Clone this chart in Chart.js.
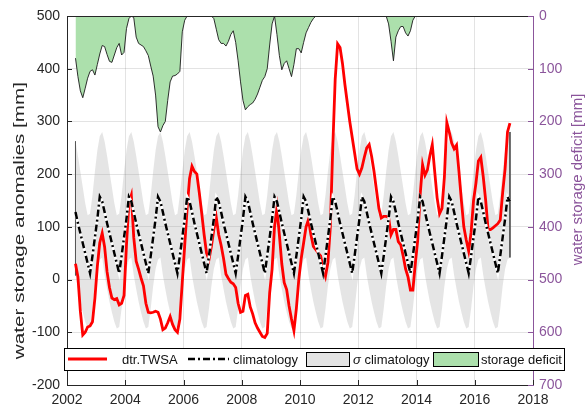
<!DOCTYPE html>
<html>
<head>
<meta charset="utf-8">
<script src="https://cdn.jsdelivr.net/npm/chart.js@4.4.1/dist/chart.umd.min.js"></script>
<style>
  html, body { margin: 0; padding: 0; background: #ffffff; }
  #wrap { width: 586px; height: 407px; }
</style>
</head>
<body>
<div id="wrap"><canvas id="c" width="586" height="407"></canvas></div>
<script>
// ---------------- DATA ----------------
// monthly series, April 2002 ... March 2017
const startYear = 2002;
const startMonth = 4;

// detrended TWSA anomalies [mm]
const twsa = [
  // 2002 Apr-Dec
  30, 5, -60, -105, -100, -90, -88, -80, -35,
  // 2003
  25, 70, 88, 62, 15, -15, -35, -38, -36, -48, -45, -30,
  // 2004
  65, 145, 160, 80, 35, 20, 3, -12, -45, -62, -63, -62,
  // 2005
  -60, -62, -75, -95, -92, -82, -70, -85, -95, -100, -75, -5,
  // 2006
  65, 135, 192, 215, 205, 200, 165, 126, 85, 50, 38, 63,
  // 2007
  95, 118, 85, 65, 40, 10, 2, -5, -8, -15, -45, -62,
  // 2008
  -60, -30, -28, -52, -65, -82, -92, -100, -108, -110, -102, -25,
  // 2009
  20, 100, 135, 85, 30, -6, -19, -50, -75, -97, -55, 0,
  // 2010
  40, 70, 100, 114, 85, 63, 57, 50, 45, 22, 6, 32,
  // 2011
  100, 250, 380, 447, 440, 410, 370, 335, 300, 270, 240, 210,
  // 2012
  200, 212, 232, 250, 256, 234, 205, 170, 135, 117, 120, 120,
  // 2013
  118, 85, 95, 95, 72, 66, 45, 20, 5, -20, -20, 30,
  // 2014
  75, 160, 218, 198, 208, 235, 256, 205, 155, 125, 135, 195,
  // 2015
  298, 280, 259, 248, 255, 205, 150, 100, 75, 54, 90, 150,
  // 2016
  183, 225, 232, 195, 150, 95, 95, 98, 102, 106, 113, 165,
  // 2017 Jan-Mar
  210, 280, 297
];

// storage deficit [mm] (right axis, 0 = no deficit)
const deficit = [
  // 2002 Apr-Dec
  80, 115, 142, 155, 137, 118, 105, 102, 112,
  // 2003
  92, 72, 56, 58, 73, 86, 88, 74, 60, 52, 74, 69,
  // 2004
  24, 5, 0, 3, 40, 52, 55, 58, 66, 75, 95, 114,
  // 2005
  150, 210, 220, 208, 200, 160, 125, 114, 113, 110, 105, 30,
  // 2006
  8, 0, 0, 0, 0, 0, 0, 0, 0, 0, 0, 0,
  // 2007
  5, 25, 45, 52, 52, 57, 48, 35, 28, 50, 85, 125,
  // 2008
  160, 178, 172, 168, 165, 158, 148, 135, 122, 115, 100, 55,
  // 2009
  15, 0, 35, 75, 102, 90, 85, 100, 115, 92, 62, 62,
  // 2010
  70, 50, 32, 22, 12, 5, 0, 0, 0, 0, 0, 0,
  // 2011
  0, 0, 0, 0, 0, 0, 0, 0, 0, 0, 0, 0,
  // 2012
  0, 0, 0, 0, 0, 0, 0, 0, 0, 0, 0, 0,
  // 2013
  15, 48, 85, 40, 28, 20, 20, 32, 38, 28, 8, 0,
  // 2014
  0, 0, 0, 0, 0, 0, 0, 0, 0, 0, 0, 0,
  // 2015
  0, 0, 0, 0, 0, 0, 0, 0, 0, 0, 0, 0,
  // 2016
  0, 0, 0, 0, 0, 0, 0, 0, 0, 0, 0, 0,
  // 2017 Jan-Mar
  0, 0, 0
];

// monthly climatology (Jan..Dec) and its +/- sigma envelope
const climMonthly  = [115, 157, 148, 128, 107, 88, 69, 50, 31, 12, 45, 80];
const sigmaUpper   = [245, 272, 280, 262, 235, 205, 175, 145, 122, 125, 160, 205];
const sigmaLower   = [20, 38, 42, 8, -18, -42, -62, -80, -93, -90, -55, -12];

// tick labels
const xTicks = [2002, 2004, 2006, 2008, 2010, 2012, 2014, 2016, 2018];
const yLeftTicks = [-200, -100, 0, 100, 200, 300, 400, 500];
const yRightTicks = [0, 100, 200, 300, 400, 500, 600, 700];

const legendLabels = ['dtr.TWSA', 'climatology', 'climatology', 'storage deficit'];
const leftTitle = 'water storage anomalies [mm]';
const rightTitle = 'water storage deficit [mm]';

// ---------------- BUILD ----------------
const months = twsa.map((_, i) => startYear + (startMonth - 1 + i + 0.5) / 12);
const moy = months.map((_, i) => (startMonth - 1 + i) % 12);
const pts = (vals) => vals.map((v, i) => ({ x: months[i], y: v }));

const twsaPts = pts(twsa);
const climPts = pts(moy.map(m => climMonthly[m]));
const upPts = pts(moy.map(m => sigmaUpper[m]));
const loPts = pts(moy.map(m => sigmaLower[m]));
const defPts = pts(deficit);
const nLast = months.length - 1;
const edgeStart = [upPts[0], loPts[0]];
const edgeEnd = [upPts[nLast], loPts[nLast]];

const PURPLE = '#8b559b';
const DARK = '#262626';
const GREEN = 'rgb(172,224,172)';
const BAND = 'rgba(150,150,150,0.25)';
const FONT = "'Liberation Sans', Arial, Helvetica, sans-serif";

const decor = {
  id: 'decor',
  afterDraw(chart) {
    const { ctx, chartArea: a, scales } = chart;
    ctx.save();
    ctx.lineWidth = 1;
    // top box line
    ctx.strokeStyle = DARK;
    ctx.beginPath(); ctx.moveTo(a.left, a.top + 0.5); ctx.lineTo(a.right, a.top + 0.5); ctx.stroke();
    // inward ticks left / bottom
    scales.y.ticks.forEach(t => {
      const y = Math.round(scales.y.getPixelForValue(t.value)) + 0.5;
      ctx.beginPath(); ctx.moveTo(a.left, y); ctx.lineTo(a.left + 5, y); ctx.stroke();
    });
    scales.x.ticks.forEach(t => {
      const x = Math.round(scales.x.getPixelForValue(t.value)) + 0.5;
      ctx.beginPath(); ctx.moveTo(x, a.bottom); ctx.lineTo(x, a.bottom - 5); ctx.stroke();
    });
    ctx.strokeStyle = PURPLE;
    scales.y2.ticks.forEach(t => {
      const y = Math.round(scales.y2.getPixelForValue(t.value)) + 0.5;
      ctx.beginPath(); ctx.moveTo(a.right, y); ctx.lineTo(a.right - 5, y); ctx.stroke();
    });

    // axis titles (both read bottom-to-top)
    ctx.textAlign = 'center';
    ctx.textBaseline = 'middle';
    ctx.font = '15px ' + FONT;
    ctx.fillStyle = DARK;
    ctx.save();
    ctx.translate(20, scales.y.getPixelForValue(112));
    ctx.rotate(-Math.PI / 2);
    ctx.scale(1.38, 1);
    ctx.fillText(leftTitle, 0, 0);
    ctx.restore();
    ctx.fillStyle = PURPLE;
    ctx.save();
    ctx.translate(578, scales.y2.getPixelForValue(310));
    ctx.rotate(-Math.PI / 2);
    ctx.fillText(rightTitle, 0, 0);
    ctx.restore();

    // legend
    ctx.textAlign = 'left';
    const L = a.left - 3, T = Math.round(scales.y.getPixelForValue(-130)), W = 500, H = 22;
    const cy = T + H / 2;
    ctx.fillStyle = '#ffffff';
    ctx.fillRect(L, T, W, H);
    ctx.strokeStyle = '#000000';
    ctx.lineWidth = 1;
    ctx.strokeRect(L + 0.5, T + 0.5, W, H);

    ctx.font = '13px ' + FONT;
    ctx.textBaseline = 'middle';
    ctx.fillStyle = '#111111';
    // red
    ctx.strokeStyle = '#ff0000'; ctx.lineWidth = 2.8;
    ctx.beginPath(); ctx.moveTo(L + 4, cy); ctx.lineTo(L + 43, cy); ctx.stroke();
    ctx.fillText(legendLabels[0], L + 58, cy + 1);
    // climatology
    ctx.strokeStyle = '#000000'; ctx.lineWidth = 2.4; ctx.setLineDash([7, 3, 2, 3]);
    ctx.beginPath(); ctx.moveTo(L + 124, cy); ctx.lineTo(L + 165, cy); ctx.stroke();
    ctx.setLineDash([]);
    ctx.fillText(legendLabels[1], L + 169, cy + 1);
    // sigma box
    ctx.lineWidth = 1;
    ctx.fillStyle = '#e3e3e3';
    ctx.fillRect(L + 242, T + 4, 43, 14);
    ctx.strokeStyle = '#000000';
    ctx.strokeRect(L + 242.5, T + 4.5, 43, 14);
    ctx.fillStyle = '#111111';
    ctx.font = 'italic 13px ' + FONT;
    ctx.fillText('\u03C3', L + 289, cy + 1);
    const sw = ctx.measureText('\u03C3').width;
    ctx.font = '13px ' + FONT;
    ctx.fillText(' ' + legendLabels[2], L + 289 + sw, cy + 1);
    // green box
    ctx.fillStyle = GREEN;
    ctx.fillRect(L + 369, T + 4, 45, 14);
    ctx.strokeRect(L + 369.5, T + 4.5, 45, 14);
    ctx.fillStyle = '#111111';
    ctx.fillText(legendLabels[3], L + 417, cy + 1);
    ctx.restore();
  }
};

const lineBase = { pointRadius: 0, pointHoverRadius: 0, tension: 0, fill: false };

new Chart(document.getElementById('c'), {
  type: 'line',
  data: {
    datasets: [
      { ...lineBase, label: 'sigma upper', data: upPts, borderWidth: 0, borderColor: 'rgba(0,0,0,0)', backgroundColor: BAND, fill: '+1', order: 9 },
      { ...lineBase, label: 'sigma lower', data: loPts, borderWidth: 0, borderColor: 'rgba(0,0,0,0)', order: 10 },
      { ...lineBase, label: 'edge start', data: edgeStart, borderWidth: 1, borderColor: '#555555', order: 8 },
      { ...lineBase, label: 'edge end', data: edgeEnd, borderWidth: 1, borderColor: '#555555', order: 8 },
      { ...lineBase, label: 'storage deficit', data: defPts, yAxisID: 'y2', borderWidth: 0.9, borderColor: '#1a1a1a', backgroundColor: GREEN, fill: { value: 0 }, order: 6 },
      { ...lineBase, label: 'dtr.TWSA', data: twsaPts, borderWidth: 2.8, borderColor: '#ff0000', order: 4 },
      { ...lineBase, label: 'clim under', data: climPts, borderWidth: 2.6, borderColor: '#ffffff', order: 3 },
      { ...lineBase, label: 'climatology', data: climPts, borderWidth: 2.5, borderColor: '#000000', borderDash: [7, 3, 2, 3], order: 2 }
    ]
  },
  options: {
    responsive: false,
    animation: false,
    devicePixelRatio: 1,
    layout: { padding: { top: 16, left: 0, right: 0, bottom: 0 } },
    plugins: { legend: { display: false }, tooltip: { enabled: false } },
    scales: {
      x: {
        type: 'linear', min: xTicks[0], max: xTicks[xTicks.length - 1],
        afterFit(s) { s.height = 22; },
        afterBuildTicks(s) { s.ticks = xTicks.map(v => ({ value: v })); },
        ticks: { padding: 7, color: DARK, font: { family: FONT, size: 14 }, callback: v => String(v), maxRotation: 0, autoSkip: false },
        grid: { color: 'rgba(0,0,0,0.11)', drawTicks: false },
        border: { color: DARK, width: 1 }
      },
      y: {
        type: 'linear', position: 'left', min: yLeftTicks[0], max: yLeftTicks[yLeftTicks.length - 1],
        afterFit(s) { s.width = 67; },
        afterBuildTicks(s) { s.ticks = yLeftTicks.map(v => ({ value: v })); },
        ticks: { padding: 7, color: DARK, font: { family: FONT, size: 14 } },
        grid: { color: 'rgba(0,0,0,0.11)', drawTicks: false },
        border: { color: DARK, width: 1 }
      },
      y2: {
        type: 'linear', position: 'right', reverse: true, min: yRightTicks[0], max: yRightTicks[yRightTicks.length - 1],
        afterFit(s) { s.width = 53; },
        afterBuildTicks(s) { s.ticks = yRightTicks.map(v => ({ value: v })); },
        ticks: { padding: 6, color: PURPLE, font: { family: FONT, size: 14 } },
        grid: { display: false, drawTicks: false },
        border: { color: PURPLE, width: 1 }
      }
    }
  },
  plugins: [decor]
});
</script>
</body>
</html>
